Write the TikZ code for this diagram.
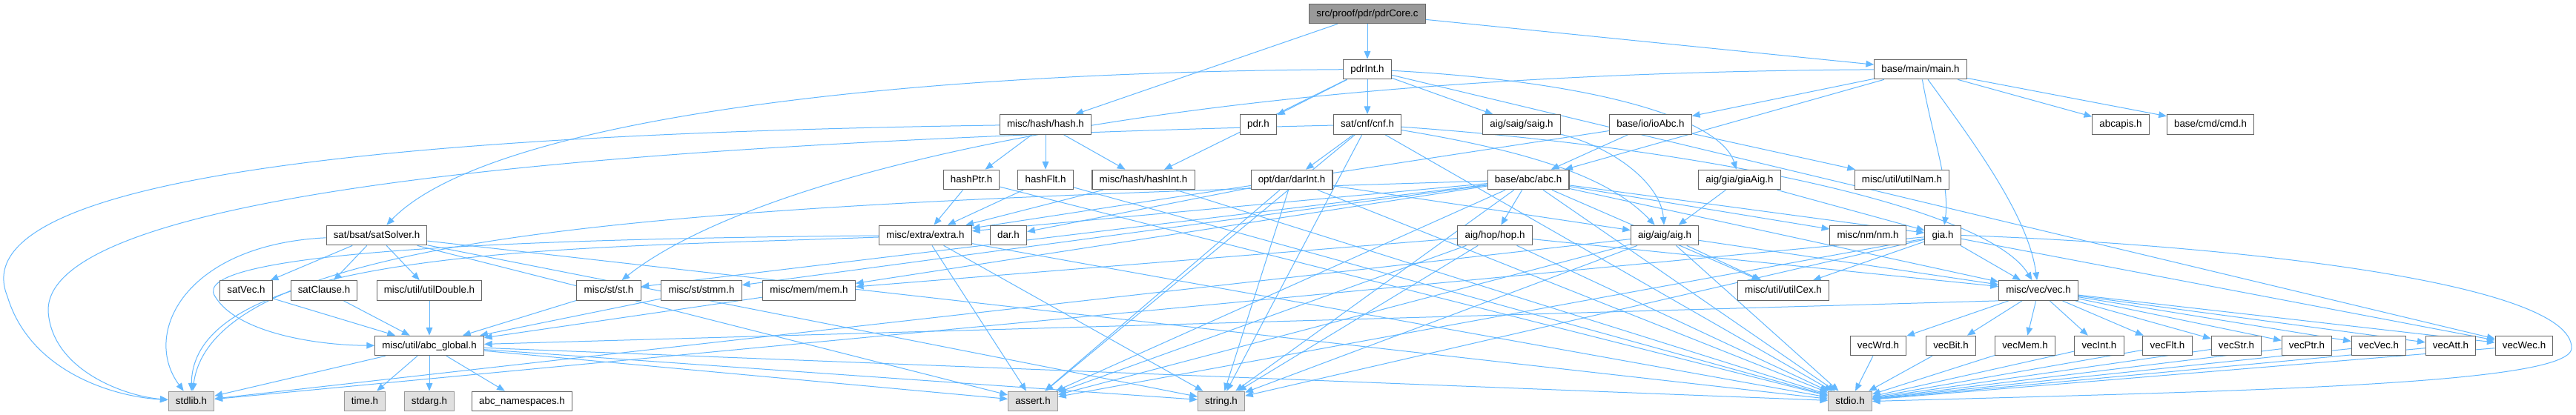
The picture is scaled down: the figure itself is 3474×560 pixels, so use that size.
\documentclass[tikz,border=0pt]{standalone}
\usepackage{fontspec}
\setmainfont{Liberation Sans}
\usetikzlibrary{arrows.meta}
\definecolor{edgeblue}{HTML}{63B8FF}
\definecolor{boxborder}{HTML}{666666}
\definecolor{rootfill}{HTML}{999999}
\definecolor{rootborder}{HTML}{666666}
\definecolor{sysfill}{HTML}{E0E0E0}
\definecolor{sysborder}{HTML}{999999}
\pgfdeclarelayer{bgl}
\pgfdeclarelayer{edges}
\pgfsetlayers{bgl,edges,main}
\begin{document}
\begin{tikzpicture}[x=0.75pt,y=-0.75pt,
  hdr/.style={draw=boxborder, fill=white, line width=0.8pt,
    font=\fontsize{10pt}{12pt}\selectfont, inner xsep=7.3pt, inner ysep=0pt,
    minimum height=20pt, text height=7.3pt, text depth=2pt},
  rootbox/.style={hdr, fill=rootfill, draw=rootborder},
  sysbox/.style={hdr, fill=sysfill, draw=sysborder},
  e/.style={draw=edgeblue, line width=0.75pt, -{Triangle[length=8pt,width=6.5pt]}}]
\useasboundingbox (0,0) rectangle (3474,560);
\begin{pgfonlayer}{bgl}
\fill[white] (0,0) rectangle (3474,560);
\end{pgfonlayer}
% row 0
\node[rootbox] (pdrCore) at (1844,18.5) {src/proof/pdr/pdrCore.c};
% row 1
\node[hdr] (pdrInt) at (1844,93.5) {pdrInt.h};
\node[hdr] (main) at (2590,93.5) {base/main/main.h};
% row 2
\node[hdr] (hash) at (1410,168) {misc/hash/hash.h};
\node[hdr] (pdr) at (1697,168) {pdr.h};
\node[hdr] (cnf) at (1844,168) {sat/cnf/cnf.h};
\node[hdr] (saig) at (2052,168) {aig/saig/saig.h};
\node[hdr] (ioAbc) at (2226,168) {base/io/ioAbc.h};
\node[hdr] (abcapis) at (2860,168) {abcapis.h};
\node[hdr] (cmd) at (2981,168) {base/cmd/cmd.h};
% row 3
\node[hdr] (hashPtr) at (1310,242.5) {hashPtr.h};
\node[hdr] (hashFlt) at (1410,242.5) {hashFlt.h};
\node[hdr] (hashInt) at (1542,242.5) {misc/hash/hashInt.h};
\node[hdr] (darInt) at (1742,242.5) {opt/dar/darInt.h};
\node[hdr] (abc) at (2061,242.5) {base/abc/abc.h};
\node[hdr] (giaAig) at (2346,242.5) {aig/gia/giaAig.h};
\node[hdr] (utilNam) at (2565,242.5) {misc/util/utilNam.h};
% row 4
\node[hdr] (satSolver) at (508,317.5) {sat/bsat/satSolver.h};
\node[hdr] (extra) at (1248,317.5) {misc/extra/extra.h};
\node[hdr] (dar) at (1360,317.5) {dar.h};
\node[hdr] (hop) at (2016,317.5) {aig/hop/hop.h};
\node[hdr] (aig) at (2245,317.5) {aig/aig/aig.h};
\node[hdr] (nm) at (2519,317.5) {misc/nm/nm.h};
\node[hdr] (gia) at (2620,317.5) {gia.h};
% row 5
\node[hdr] (satVec) at (332,392) {satVec.h};
\node[hdr] (satClause) at (437,392) {satClause.h};
\node[hdr] (utilDouble) at (579,392) {misc/util/utilDouble.h};
\node[hdr] (st) at (821,392) {misc/st/st.h};
\node[hdr] (stmm) at (946,392) {misc/st/stmm.h};
\node[hdr] (mem) at (1091,392) {misc/mem/mem.h};
\node[hdr] (utilCex) at (2405,392) {misc/util/utilCex.h};
\node[hdr] (vec) at (2749,392) {misc/vec/vec.h};
% row 6
\node[hdr] (abcglobal) at (579,466.5) {misc/util/abc\_global.h};
\node[hdr] (vecWrd) at (2533,466.5) {vecWrd.h};
\node[hdr] (vecBit) at (2631,466.5) {vecBit.h};
\node[hdr] (vecMem) at (2731,466.5) {vecMem.h};
\node[hdr] (vecInt) at (2831,466.5) {vecInt.h};
\node[hdr] (vecFlt) at (2923,466.5) {vecFlt.h};
\node[hdr] (vecStr) at (3016,466.5) {vecStr.h};
\node[hdr] (vecPtr) at (3111,466.5) {vecPtr.h};
\node[hdr] (vecVec) at (3208,466.5) {vecVec.h};
\node[hdr] (vecAtt) at (3305,466.5) {vecAtt.h};
\node[hdr] (vecWec) at (3404,466.5) {vecWec.h};
% row 7
\node[sysbox] (stdlib) at (258,541.5) {stdlib.h};
\node[sysbox] (time) at (492,541.5) {time.h};
\node[sysbox] (stdarg) at (579,541.5) {stdarg.h};
\node[hdr] (abcns) at (704,541.5) {abc\_namespaces.h};
\node[sysbox] (assert) at (1393,541.5) {assert.h};
\node[sysbox] (string) at (1647,541.5) {string.h};
\node[sysbox] (stdio) at (2495,541.5) {stdio.h};

\begin{pgfonlayer}{edges}
% root
\draw[e] (pdrCore) -- (pdrInt);
\draw[e] (pdrCore) -- (main);
\draw[e] (pdrCore) -- (hash);
% pdrInt
\draw[e] (pdrInt) .. controls (1150,98) and (650,170) .. (satSolver);
\draw[e] (pdrInt) -- (pdr);
\draw[e] (pdrInt) -- (hashInt);
\draw[e] (pdrInt) -- (cnf);
\draw[e] (pdrInt) -- (saig);
\draw[e] (pdrInt) .. controls (2150,110) and (2320,160) .. (giaAig);
\draw[e] (pdrInt) -- (vecWec);
% main
\draw[e] (main) -- (abc);
\draw[e] (main) .. controls (2605,180) and (2630,250) .. (gia);
\draw[e] (main) -- (abcapis);
\draw[e] (main) -- (cmd);
\draw[e] (main) -- (ioAbc);
\draw[e] (main) .. controls (2660,190) and (2735,290) .. (vec);
\draw[e] (main) .. controls (1500,100) and (1000,250) .. (st);
% hash
\draw[e] (hash) -- (hashPtr);
\draw[e] (hash) -- (hashFlt);
\draw[e] (hash) -- (hashInt);
\draw[e] (hash) .. controls (600,180) and (-60,230) .. (10,400) .. controls (40,500) and (150,535) .. (stdlib);
% cnf
\draw[e] (cnf) -- (darInt);
\draw[e] (cnf) .. controls (2100,210) and (2180,250) .. (aig);
\draw[e] (cnf) .. controls (2300,200) and (2680,280) .. (vec);
\draw[e] (cnf) -- (stdio);
\draw[e] (cnf) -- (string);
\draw[e] (cnf) -- (assert);
\draw[e] (cnf) .. controls (900,190) and (60,250) .. (65,420) .. controls (70,500) and (170,535) .. (stdlib);
% saig, ioAbc
\draw[e] (saig) .. controls (2180,200) and (2240,250) .. (aig);
\draw[e] (ioAbc) -- (abc);
\draw[e] (ioAbc) -- (utilNam);
\draw[e] (ioAbc) -- (extra);
% hash parts
\draw[e] (hashPtr) -- (extra);
\draw[e] (hashPtr) -- (stdio);
\draw[e] (hashFlt) -- (extra);
\draw[e] (hashFlt) -- (stdio);
\draw[e] (hashInt) -- (extra);
\draw[e] (hashInt) -- (stdio);
% darInt
\draw[e] (darInt) -- (dar);
\draw[e] (darInt) -- (aig);
\draw[e] (darInt) -- (assert);
\draw[e] (darInt) -- (string);
\draw[e] (darInt) -- (stdio);
% abc
\draw[e] (abc) -- (stdio);
\draw[e] (abc) -- (string);
\draw[e] (abc) -- (assert);
\draw[e] (abc) -- (vec);
\draw[e] (abc) -- (hop);
\draw[e] (abc) -- (gia);
\draw[e] (abc) -- (st);
\draw[e] (abc) -- (stmm);
\draw[e] (abc) -- (nm);
\draw[e] (abc) -- (mem);
\draw[e] (abc) -- (utilCex);
\draw[e] (abc) -- (extra);
\draw[e] (abc) .. controls (1000,275) and (290,300) .. (stdlib);
% giaAig
\draw[e] (giaAig) -- (aig);
\draw[e] (giaAig) -- (gia);
% satSolver
\draw[e] (satSolver) -- (satVec);
\draw[e] (satSolver) -- (satClause);
\draw[e] (satSolver) -- (utilDouble);
\draw[e] (satSolver) -- (assert);
\draw[e] (satSolver) -- (string);
\draw[e] (satSolver) -- (stdio);
\draw[e] (satSolver) .. controls (250,330) and (190,450) .. (stdlib);
% extra
\draw[e] (extra) -- (assert);
\draw[e] (extra) -- (string);
\draw[e] (extra) -- (stdio);
\draw[e] (extra) .. controls (800,335) and (260,330) .. (stdlib);
\draw[e] (extra) .. controls (700,322) and (250,340) .. (290,400) .. controls (320,450) and (430,466) .. (abcglobal);
% hop
\draw[e] (hop) -- (vec);
\draw[e] (hop) -- (mem);
\draw[e] (hop) -- (stdio);
\draw[e] (hop) -- (string);
\draw[e] (hop) -- (assert);
% aig
\draw[e] (aig) -- (stdlib);
\draw[e] (aig) -- (assert);
\draw[e] (aig) -- (string);
\draw[e] (aig) -- (stdio);
\draw[e] (aig) -- (utilCex);
\draw[e] (aig) -- (vec);
% gia
\draw[e] (gia) -- (stdlib);
\draw[e] (gia) -- (assert);
\draw[e] (gia) -- (string);
\draw[e] (gia) -- (vec);
\draw[e] (gia) -- (vecWec);
\draw[e] (gia) -- (utilCex);
\draw[e] (gia.east) .. controls (3000,330) and (3470,380) .. (3468,470) .. controls (3466,520) and (3000,528) .. (stdio.east);
% to abc_global
\draw[e] (satVec) -- (abcglobal);
\draw[e] (satClause) -- (abcglobal);
\draw[e] (utilDouble) -- (abcglobal);
\draw[e] (st) -- (abcglobal);
\draw[e] (stmm) -- (abcglobal);
\draw[e] (mem) -- (abcglobal);
\draw[e] (vec.south west) -- (abcglobal);
% vec
\foreach \v in {vecWrd,vecBit,vecMem,vecInt,vecFlt,vecStr,vecPtr,vecVec,vecAtt,vecWec} {
  \draw[e] (vec) -- (\v);
  \draw[e] (\v) -- (stdio);
}
% abc_global
\draw[e] (abcglobal) -- (stdlib);
\draw[e] (abcglobal) -- (time);
\draw[e] (abcglobal) -- (stdarg);
\draw[e] (abcglobal) -- (abcns);
\draw[e] (abcglobal) -- (assert);
\draw[e] (abcglobal) -- (string);
\draw[e] (abcglobal) -- (stdio);
\end{pgfonlayer}
\end{tikzpicture}
\end{document}
